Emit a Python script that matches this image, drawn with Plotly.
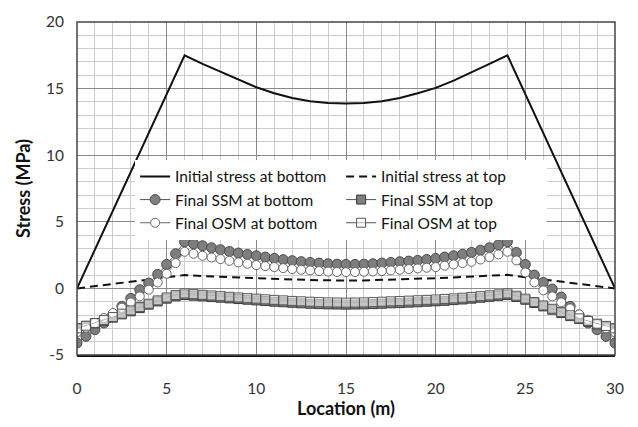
import plotly.graph_objects as go

# ---------------- data ----------------
x_init = [0, 6, 7, 8, 9, 10, 11, 12, 13, 14, 15, 16, 17, 18, 19, 20, 21, 22, 23, 24, 30]
init_bottom = [0, 17.5, 16.85, 16.25, 15.65, 15.1, 14.65, 14.3, 14.05, 13.92, 13.88,
               13.92, 14.05, 14.3, 14.65, 15.05, 15.6, 16.2, 16.85, 17.5, 0]
init_top = [0, 1.0, 0.93, 0.87, 0.82, 0.77, 0.72, 0.67, 0.63, 0.6, 0.59,
            0.6, 0.63, 0.67, 0.72, 0.77, 0.82, 0.87, 0.93, 1.02, 0]

x_final = [0, 0.5, 1, 1.5, 2, 2.5, 3, 3.5, 4, 4.5, 5, 5.5, 6,
           6.5, 7, 7.5, 8, 8.5, 9, 9.5, 10, 10.5, 11, 11.5, 12, 12.5, 13, 13.5, 14, 14.5, 15,
           15.5, 16, 16.5, 17, 17.5, 18, 18.5, 19, 19.5, 20, 20.5, 21, 21.5, 22, 22.5, 23, 23.5, 24,
           24.5, 25, 25.5, 26, 26.5, 27, 27.5, 28, 28.5, 29, 29.5, 30]

ssm_bottom = [-4.1, -3.6, -3.1, -2.6, -2.0, -1.35, -0.75, -0.1, 0.4, 1.05, 1.8, 2.6, 3.5,
              3.35, 3.2, 3.05, 2.9, 2.77, 2.65, 2.55, 2.45, 2.35, 2.25, 2.16, 2.08, 2.01, 1.95, 1.9, 1.85, 1.82, 1.8,
              1.8, 1.82, 1.85, 1.9, 1.95, 2.0, 2.05, 2.1, 2.17, 2.25, 2.35, 2.45, 2.57, 2.7, 2.87, 3.05, 3.27, 3.5,
              2.7, 1.8, 1.0, 0.45, -0.05, -0.65, -1.35, -2.0, -2.6, -3.1, -3.6, -4.1]

ssm_top = [-3.0, -2.82, -2.62, -2.43, -2.2, -1.95, -1.72, -1.48, -1.22, -0.98, -0.77, -0.6, -0.5,
           -0.55, -0.6, -0.65, -0.7, -0.75, -0.8, -0.85, -0.9, -0.95, -1.0, -1.04, -1.08, -1.12, -1.15, -1.18, -1.2, -1.21, -1.22,
           -1.21, -1.2, -1.18, -1.15, -1.12, -1.1, -1.07, -1.04, -1.0, -0.97, -0.93, -0.88, -0.83, -0.77, -0.7, -0.63, -0.56, -0.5,
           -0.65, -0.85, -1.1, -1.35, -1.6, -1.85, -2.08, -2.3, -2.5, -2.7, -2.85, -3.0]

osm_bottom = [-3.3, -2.95, -2.6, -2.22, -1.85, -1.45, -1.05, -0.6, -0.1, 0.45, 1.1, 1.9, 2.75,
              2.6, 2.45, 2.32, 2.2, 2.07, 1.95, 1.85, 1.75, 1.67, 1.6, 1.52, 1.45, 1.4, 1.35, 1.3, 1.26, 1.23, 1.22,
              1.23, 1.25, 1.27, 1.3, 1.35, 1.4, 1.45, 1.5, 1.55, 1.6, 1.7, 1.8, 1.9, 2.0, 2.17, 2.35, 2.55, 2.75,
              2.1, 1.2, 0.45, -0.15, -0.6, -1.05, -1.5, -1.95, -2.35, -2.7, -3.0, -3.3]

osm_top = [-3.0, -2.8, -2.6, -2.38, -2.15, -1.9, -1.65, -1.4, -1.15, -0.9, -0.68, -0.5, -0.38,
           -0.43, -0.48, -0.53, -0.58, -0.63, -0.68, -0.73, -0.77, -0.82, -0.86, -0.9, -0.94, -0.97, -1.0, -1.03, -1.05, -1.06, -1.07,
           -1.06, -1.05, -1.03, -1.0, -0.97, -0.95, -0.92, -0.89, -0.86, -0.83, -0.79, -0.75, -0.7, -0.64, -0.58, -0.52, -0.45, -0.38,
           -0.55, -0.77, -1.02, -1.28, -1.53, -1.78, -2.02, -2.25, -2.45, -2.65, -2.82, -3.0]

x_ticks = [0, 5, 10, 15, 20, 25, 30]
y_ticks = [-5, 0, 5, 10, 15, 20]

# ---------------- figure ----------------
FONT = "Lato"
fig = go.Figure()

fig.add_trace(go.Scatter(x=x_init, y=init_bottom, mode="lines", name="Initial stress at bottom",
                         line=dict(color="#111111", width=2)))
fig.add_trace(go.Scatter(x=x_init, y=init_top, mode="lines", name="Initial stress at top",
                         line=dict(color="#111111", width=2, dash="8px,5px")))
fig.add_trace(go.Scatter(x=x_final, y=ssm_bottom, mode="lines+markers", name="Final SSM at bottom",
                         line=dict(color="#555555", width=1),
                         marker=dict(symbol="circle", size=10, color="#7e7e7e",
                                     line=dict(color="#4a4a4a", width=1))))
fig.add_trace(go.Scatter(x=x_final, y=ssm_top, mode="lines+markers", name="Final SSM at top",
                         line=dict(color="#555555", width=1),
                         marker=dict(symbol="square", size=9, color="#7e7e7e",
                                     line=dict(color="#3a3a3a", width=1))))
fig.add_trace(go.Scatter(x=x_final, y=osm_bottom, mode="lines+markers", name="Final OSM at bottom",
                         line=dict(color="#666666", width=1),
                         marker=dict(symbol="circle", size=9, color="#ffffff",
                                     line=dict(color="#666666", width=1))))
fig.add_trace(go.Scatter(x=x_final, y=osm_top, mode="lines+markers", name="Final OSM at top",
                         line=dict(color="#555555", width=1),
                         marker=dict(symbol="square", size=9, color="rgba(255,255,255,0.55)",
                                     line=dict(color="#555555", width=1))))

fig.update_layout(
    width=638, height=427,
    margin=dict(l=77, r=23, t=14, b=70),
    paper_bgcolor="white", plot_bgcolor="white",
    font=dict(family=FONT, size=15, color="#222222"),
    showlegend=True,
    legend=dict(orientation="h", x=0.108, y=0.586, xanchor="left", yanchor="top",
                entrywidth=161, entrywidthmode="pixels",
                bgcolor="white", borderwidth=0, itemwidth=30,
                font=dict(family=FONT, size=15.5, color="#111111"),
                tracegroupgap=0),
)

fig.update_xaxes(
    range=[0, 30], tickvals=x_ticks, ticktext=[str(v) for v in x_ticks],
    showgrid=True, gridcolor="#8a8a8a", gridwidth=1,
    minor=dict(dtick=1, showgrid=True, gridcolor="#cccccc", gridwidth=1),
    showline=True, linecolor="#111111", linewidth=2, mirror=False,
    zeroline=False, ticks="", ticklabelstandoff=18,
    tickfont=dict(family=FONT, size=15.5, color="#333333"),
    title=dict(text="<b>Location (m)</b>", font=dict(family=FONT, size=18, color="#111111"), standoff=6),
)
fig.update_yaxes(
    range=[-5, 20], tickvals=y_ticks, ticktext=[str(v) for v in y_ticks],
    showgrid=True, gridcolor="#8a8a8a", gridwidth=1,
    minor=dict(dtick=1, showgrid=True, gridcolor="#cccccc", gridwidth=1),
    showline=False, zeroline=False, ticks="", ticklabelstandoff=12,
    tickfont=dict(family=FONT, size=15.5, color="#333333"),
    title=dict(text="<b>Stress (MPa)</b>", font=dict(family=FONT, size=18, color="#111111"), standoff=10),
)

# plot-area frame
fig.add_shape(type="rect", xref="paper", yref="paper", x0=0, y0=0, x1=1, y1=1,
              line=dict(color="#444444", width=1.5), layer="above")

fig.write_html("out.html")
